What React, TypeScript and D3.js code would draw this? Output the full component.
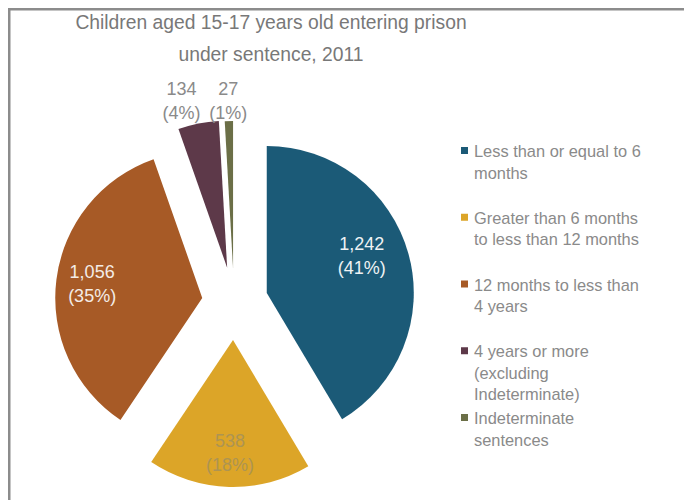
import React from "react";
import * as d3 from "d3";

// Sentence length categories and counts of children entering prison
const legendLines: string[][] = [
  ["Less than or equal to 6", "months"],
  ["Greater than 6 months", "to less than 12 months"],
  ["12 months to less than", "4 years"],
  ["4 years or more", "(excluding", "Indeterminate)"],
  ["Indeterminate", "sentences"],
];
const counts: number[] = [1242, 538, 1056, 134, 27];
const titleLines: string[] = [
  "Children aged 15-17 years old entering prison",
  "under sentence, 2011",
];

// Styling / layout
const colors = ["#1b5a77", "#dca528", "#a75a26", "#5d3949", "#6b6f47"];
const labelColors = ["#eef2f4", "#ad9452", "#f4ece6", "#8a8a8a", "#8a8a8a"];
const explode = [34, 38, 32, 35, 34];
const labelDist = [102, 113, 111, 173, 167];
const labelNudgeDeg = [-6, 0, 0, -4, 0];

const W = 684;
const H = 500;
const CX = 234;
const CY = 302;
const R = 147;
const FONT = "'Liberation Sans', Arial, Helvetica, sans-serif";

export default function App() {
  const total = d3.sum(counts);
  const pie = d3.pie<number>().sort(null).value((d) => d);
  const arcs = pie(counts);
  const arcGen = d3.arc<d3.PieArcDatum<number>>().innerRadius(0).outerRadius(R);
  const fmt = d3.format(",");

  const legendY0 = 157;
  const legendStep = 66.75;
  const lineStep = 21.5;

  return (
    <svg
      width={W}
      height={H}
      style={{ position: "absolute", left: 0, top: 0, background: "#ffffff" }}
      fontFamily={FONT}
    >
      {/* frame */}
      <path d={`M9.25,${H} V9.25 H${W}`} fill="none" stroke="#8c8c8c" strokeWidth={2.5} />

      {/* title */}
      {titleLines.map((t, i) => (
        <text
          key={i}
          x={271}
          y={29 + i * 32}
          textAnchor="middle"
          fontSize={19.3}
          fill="#787878"
        >
          {t}
        </text>
      ))}

      {/* exploded pie */}
      {arcs.map((a, i) => {
        const mid = (a.startAngle + a.endAngle) / 2;
        const ox = CX + explode[i] * Math.sin(mid);
        const oy = CY - explode[i] * Math.cos(mid);
        const la = mid + (labelNudgeDeg[i] * Math.PI) / 180;
        const lx = ox + labelDist[i] * Math.sin(la);
        const ly = oy - labelDist[i] * Math.cos(la);
        const pct = Math.round((a.data / total) * 100);
        return (
          <g key={i}>
            <path d={arcGen(a) ?? ""} transform={`translate(${ox},${oy})`} fill={colors[i]} />
            <text
              x={lx}
              y={ly - 12}
              textAnchor="middle"
              dominantBaseline="central"
              fontSize={18}
              fill={labelColors[i]}
            >
              {fmt(a.data)}
            </text>
            <text
              x={lx}
              y={ly + 12}
              textAnchor="middle"
              dominantBaseline="central"
              fontSize={18}
              fill={labelColors[i]}
            >
              {`(${pct}%)`}
            </text>
          </g>
        );
      })}

      {/* legend */}
      {legendLines.map((lines, i) => {
        const y = legendY0 + i * legendStep;
        return (
          <g key={i}>
            <rect x={461} y={y - 10} width={7} height={7} fill={colors[i]} />
            {lines.map((l, j) => (
              <text key={j} x={474} y={y + j * lineStep} fontSize={16.4} fill="#8a8a8a">
                {l}
              </text>
            ))}
          </g>
        );
      })}
    </svg>
  );
}
